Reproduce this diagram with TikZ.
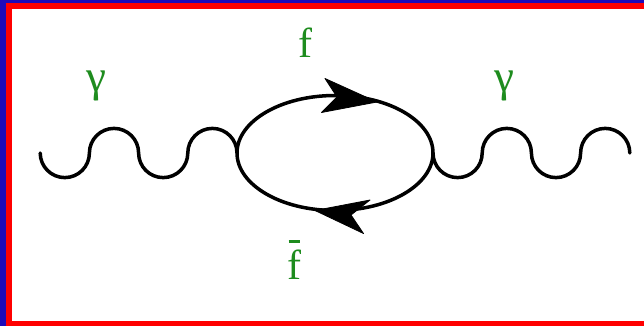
\documentclass[tikz,border=0pt]{standalone}
\usepackage{fontspec}
\newfontfamily\lblfont{Liberation Serif}
\definecolor{frameblue}{RGB}{30,10,185}
\definecolor{framered}{RGB}{255,0,0}
\definecolor{labelgreen}{RGB}{30,140,30}
\begin{document}
\begin{tikzpicture}[x=1pt,y=-1pt,
  line/.style={line width=3.5pt,black,line cap=round},
  tipfill/.style={fill=black,draw=black,line width=0.8pt,line join=round},
  lbl/.style={text=labelgreen,inner sep=0pt,font=\lblfont\fontsize{42}{48}\selectfont},
  glbl/.style={text=labelgreen,inner sep=0pt,font=\lblfont\fontsize{45}{50}\selectfont}]
\useasboundingbox (0,0) rectangle (644,326);
\fill[white] (0,0) rectangle (644,326);
% frame
\fill[frameblue] (0,0) rectangle (6,326);
\fill[frameblue] (0,0) rectangle (644,3);
\fill[framered] (6,3) rectangle (12,326);
\fill[framered] (6,3) rectangle (644,9.5);
\fill[framered] (6,321) rectangle (644,326);
% vertices and loop
\coordinate (C) at (335,153);
\coordinate (L) at (237,153);
\coordinate (R) at (433,153);
\coordinate (WL) at (40.2,153);
\draw[line] (C) ellipse [x radius=98, y radius=57.5];
% photon lines
\draw[line] (WL) arc[start angle=180,end angle=0,radius=24.6]
  arc[start angle=180,end angle=360,radius=24.6]
  arc[start angle=180,end angle=0,radius=24.6]
  arc[start angle=180,end angle=360,radius=24.6] -- (L);
\draw[line] (R) arc[start angle=180,end angle=0,radius=24.6]
  arc[start angle=180,end angle=360,radius=24.6]
  arc[start angle=180,end angle=0,radius=24.6]
  arc[start angle=180,end angle=360,radius=24.6];
% arrowheads
\fill[tipfill] (377,102) -- (325,78.5) -- (337,97) -- (321.5,112.5) -- cycle;
\fill[tipfill] (315,210.5) -- (370,200) -- (351,215) -- (363.5,233.5) -- cycle;
% labels
\node[glbl] (g1) at (96,86) {γ};
\node[glbl] (g2) at (504,86) {γ};
\node[lbl] (f) at (305,42.5) {f};
\node[lbl] (fb) at (294,265) {f};
\draw[labelgreen,line width=3pt] ([xshift=-5.5pt,yshift=8.7pt]fb.north) -- ++(11,0);
\end{tikzpicture}
\end{document}
